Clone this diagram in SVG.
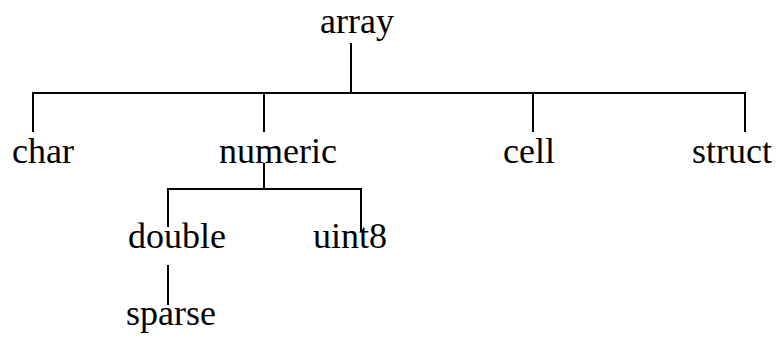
<svg xmlns="http://www.w3.org/2000/svg" width="776" height="340" viewBox="0 0 776 340">
<style>
text{font-family:"Liberation Serif","Times New Roman",serif;font-size:36px;fill:#000}
.c line{stroke:#000;stroke-width:2;fill:none}
</style>
<rect width="776" height="340" fill="#fff"/>
<g class="c" id="connectors">
<line x1="351" y1="43" x2="351" y2="93"/>
<line x1="33" y1="93" x2="745" y2="93"/>
<line x1="33" y1="92" x2="33" y2="132"/>
<line x1="264" y1="93" x2="264" y2="132"/>
<line x1="533" y1="93" x2="533" y2="132"/>
<line x1="745" y1="92" x2="745" y2="132"/>
<line x1="264" y1="163" x2="264" y2="189"/>
<line x1="168" y1="189" x2="361" y2="189"/>
<line x1="168" y1="188" x2="168" y2="227"/>
<line x1="361" y1="188" x2="361" y2="232"/>
<line x1="168" y1="265" x2="168" y2="305"/>
</g>
<g id="array"><text x="320" y="33">array</text></g>
<g id="char"><text x="12" y="163">char</text></g>
<g id="numeric"><text x="219" y="163">numeric</text></g>
<g id="cell"><text x="503" y="163">cell</text></g>
<g id="struct"><text x="692" y="163">struct</text></g>
<g id="double"><text x="128" y="248">double</text></g>
<g id="uint8"><text x="313" y="248">uint8</text></g>
<g id="sparse"><text x="126" y="325">sparse</text></g>
</svg>
